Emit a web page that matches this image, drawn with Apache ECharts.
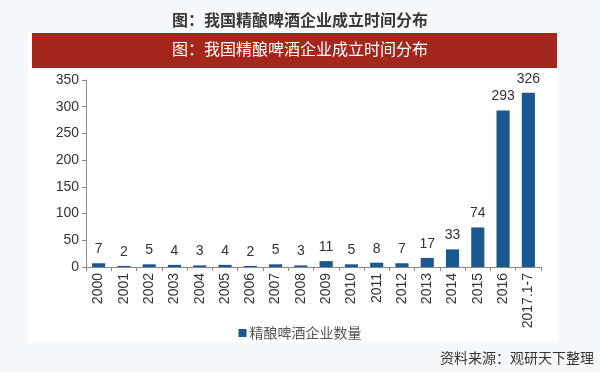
<!DOCTYPE html>
<html>
<head>
<meta charset="utf-8">
<script src="https://cdn.jsdelivr.net/npm/echarts@6/dist/echarts.min.js"></script>
<style>
html,body{margin:0;padding:0;background:#f6f9fc;}
#c{width:600px;height:372px;}
</style>
</head>
<body>
<div id="c"></div>
<script>
const categories = ['2000','2001','2002','2003','2004','2005','2006','2007','2008','2009','2010','2011','2012','2013','2014','2015','2016','2017.1-7'];
const breweryCounts = [7,2,5,4,3,4,2,5,3,11,5,8,7,17,33,74,293,326];
const seriesName = '精酿啤酒企业数量';
const titleText = '图：我国精酿啤酒企业成立时间分布';
const sourceText = '资料来源：观研天下整理';

const chart = echarts.init(document.getElementById('c'));
const font = '"Liberation Sans", Arial, "Noto Sans CJK SC", sans-serif';
chart.setOption({
  backgroundColor: '#f6f9fc',
  animation: false,
  graphic: [
    {type:'rect', z:-10, shape:{x:28,y:33,width:530,height:310}, style:{fill:'#ffffff'}},
    {type:'rect', z:-5, shape:{x:32,y:33,width:525,height:35}, style:{fill:'#a3271c'}},
    {type:'text', left:'center', top:41, style:{text:titleText, fill:'#ffffff', font:'16px "Noto Sans CJK SC", sans-serif'}},
    {type:'text', right:6, top:351, style:{text:sourceText, fill:'#333333', font:'14px "Noto Sans CJK SC", sans-serif'}}
  ],
  title: {
    text: titleText, left: 'center', top: 7,
    textStyle: {fontSize: 16, fontWeight: 'bold', color: '#3a3a3a', fontFamily: '"Noto Sans CJK SC", sans-serif'}
  },
  legend: {
    data: [seriesName], top: 321, left: 'center', itemWidth: 8, itemHeight: 8, itemGap: 4,
    icon: 'rect',
    textStyle: {fontSize: 14, color: '#555', fontFamily: '"Noto Sans CJK SC", sans-serif', padding:[0,0,0,-2]}
  },
  grid: {left: 86, right: 59, top: 80, bottom: 105},
  xAxis: {
    type: 'category', data: categories,
    axisLine: {lineStyle: {color: '#888', width: 1}},
    axisTick: {show: true, alignWithLabel: false, length: 4, lineStyle: {color: '#888'}},
    axisLabel: {rotate: 90, fontSize: 14, color: '#333', fontFamily: font, margin: 6, interval: 0}
  },
  yAxis: {
    type: 'value', min: 0, max: 350, interval: 50,
    splitLine: {show: false},
    axisLine: {show: true, lineStyle: {color: '#888'}},
    axisTick: {show: true, length: 4, lineStyle: {color: '#888'}},
    axisLabel: {fontSize: 14, color: '#333', fontFamily: font, margin: 7}
  },
  series: [{
    name: seriesName, type: 'bar', data: breweryCounts, barWidth: '52%',
    itemStyle: {color: '#1b5790'},
    label: {show: true, position: 'top', distance: 7, fontSize: 14, color: '#333', fontFamily: font}
  }]
});
</script>
</body>
</html>
